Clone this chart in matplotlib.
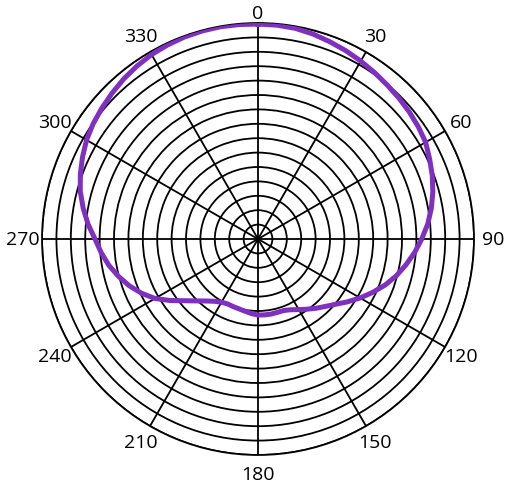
#!/usr/bin/env python3
# -*- coding: utf-8 -*-

import numpy as np
import matplotlib
matplotlib.use('Agg')
import matplotlib.pyplot as plt

plt.rcParams['font.family'] = ['Open Sans', 'DejaVu Sans']

# angle in degrees (clockwise from top), radius in ring units (outer ring = 15)
angles = list(range(0, 365, 5))
radius = [14.93, 14.91, 14.86, 14.74, 14.58, 14.43, 14.27, 14.11, 13.96, 13.84,
          13.72, 13.59, 13.44, 13.15, 12.88, 12.57, 12.22, 11.83, 11.37, 10.91,
          10.42, 9.93, 9.38, 8.78, 8.19, 7.60, 7.05, 6.62, 6.28, 5.95,
          5.66, 5.42, 5.28, 5.27, 5.29, 5.29, 5.28, 5.20, 5.10, 5.03,
          5.00, 4.98, 5.07, 5.28, 5.62, 6.08, 6.67, 7.45, 8.26, 8.92,
          9.51, 10.03, 10.52, 10.93, 11.32, 11.85, 12.33, 12.78, 13.13, 13.45,
          13.75, 13.97, 14.15, 14.33, 14.51, 14.66, 14.79, 14.87, 14.93, 14.96,
          14.97, 14.95, 14.93]

ring_ticks = list(range(1, 16))
spoke_ticks = list(range(0, 360, 30))
spoke_labels = [str(a) for a in spoke_ticks]

fig = plt.figure(figsize=(5.10, 4.89), dpi=100)
ax = fig.add_axes([0.0824, 0.0675, 0.847, 0.8834], projection='polar')
ax.set_theta_zero_location('N')
ax.set_theta_direction(-1)

ax.set_ylim(0, 15)
ax.set_yticks(ring_ticks)
ax.set_yticklabels([])
ax.set_xticks(np.deg2rad(spoke_ticks))
# the top label sits tight on the circle, place it by hand
ax.set_xticklabels([''] + spoke_labels[1:], fontsize=14)
ax.annotate(spoke_labels[0], xy=(0, 15), xytext=(0, 3.5), textcoords='offset points',
            ha='center', va='baseline', fontsize=14, annotation_clip=False)
ax.tick_params(axis='x', pad=3)
ax.grid(True, color='black', linewidth=1.3)
ax.spines['polar'].set_linewidth(1.3)

ax.plot(np.deg2rad(angles), radius, color='#8030c0', linewidth=3.6,
        solid_joinstyle='round', zorder=5)

fig.savefig('out.png', dpi=100)
